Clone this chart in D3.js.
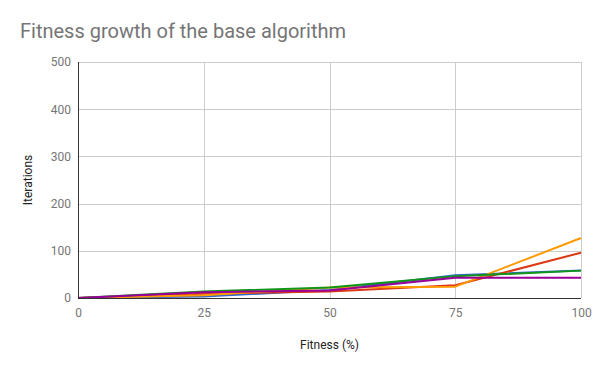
<!DOCTYPE html>
<html>
<head>
<meta charset="utf-8">
<script src="https://cdn.jsdelivr.net/npm/d3@7"></script>
<style>
  body { margin: 0; background: #fff; }
  text { font-family: Roboto, sans-serif; }
</style>
</head>
<body>
<div class="chart"></div>
<script>
// fitness steps (x) and iterations for each run
var fitness = [0, 25, 50, 75, 100];
var runBlue = [0, 3, 17, 48, 58];
var runRed = [0, 9, 14, 27, 96];
var runOrange = [0, 6, 22, 24, 127];
var runGreen = [0, 14, 22, 46, 58];
var runPurple = [0, 12, 16, 43, 43];
var xTicks = [0, 25, 50, 75, 100];
var yTicks = [0, 100, 200, 300, 400, 500];

var series = [
    {values: runBlue, color: "#3366cc"},
    {values: runRed, color: "#dc3912"},
    {values: runOrange, color: "#ff9900"},
    {values: runGreen, color: "#109618"},
    {values: runPurple, color: "#990099"}
];

var svgWidth = 600;
var svgHeight = 371;

var margin = {top: 62, right: 19, bottom: 73, left: 78};
var width = svgWidth - margin.left - margin.right;
var height = svgHeight - margin.top - margin.bottom;

var svg = d3.select(".chart").append("svg")
    .attr("width", svgWidth).attr("height", svgHeight);

svg.append("text")
    .attr("x", 20).attr("y", 38)
    .attr("font-size", "20px")
    .attr("fill", "#757575")
    .text("Fitness growth of the base algorithm");

var chartGroup = svg.append("g").attr("transform", `translate(${margin.left},${margin.top})`);

var x = d3.scaleLinear().domain([0, 100]).range([0, width]);
var y = d3.scaleLinear().domain([0, 500]).range([height, 0]);

// gridlines
chartGroup.append("g").selectAll("line")
    .data(yTicks.slice(1)).enter().append("line")
    .attr("x1", 0).attr("x2", width)
    .attr("y1", d => Math.round(y(d)) + 0.5).attr("y2", d => Math.round(y(d)) + 0.5)
    .attr("stroke", "#cccccc");

chartGroup.append("g").selectAll("line")
    .data(xTicks.slice(1)).enter().append("line")
    .attr("y1", 0).attr("y2", height)
    .attr("x1", d => Math.round(x(d)) + 0.5).attr("x2", d => Math.round(x(d)) + 0.5)
    .attr("stroke", "#cccccc");

// axes
var bottomAxis = d3.axisBottom(x).tickValues(xTicks).tickSize(0).tickPadding(10);
var leftAxis = d3.axisLeft(y).tickValues(yTicks).tickSize(0).tickPadding(7);

var xAxis = chartGroup.append("g")
    .attr("transform", `translate(0, ${height})`)
    .call(bottomAxis);
var yAxis = chartGroup.append("g").call(leftAxis);

[xAxis, yAxis].forEach(function(a) {
    a.select(".domain").remove();
    a.selectAll("text").attr("fill", "#757575").attr("font-size", "12px")
        .attr("font-family", "Roboto, sans-serif");
});

// lines
var line = d3.line()
    .x((d, i) => x(fitness[i]))
    .y(d => y(d));

chartGroup.selectAll(".run")
    .data(series).enter().append("path")
    .attr("class", "run")
    .attr("d", d => line(d.values))
    .attr("fill", "none")
    .attr("stroke", d => d.color)
    .attr("stroke-width", 2)
    .attr("stroke-linejoin", "round");

// baseline and left axis line
chartGroup.append("line")
    .attr("x1", 0).attr("x2", width)
    .attr("y1", height + 0.5).attr("y2", height + 0.5)
    .attr("stroke", "#333333");
chartGroup.append("line")
    .attr("x1", 0.5).attr("x2", 0.5)
    .attr("y1", 0).attr("y2", height)
    .attr("stroke", "#333333");

// axis titles
svg.append("text")
    .attr("x", margin.left + width / 2).attr("y", 349)
    .attr("text-anchor", "middle")
    .attr("font-size", "12px")
    .attr("fill", "#222")
    .text("Fitness (%)");

svg.append("text")
    .attr("transform", "rotate(-90)")
    .attr("x", -180).attr("y", 32)
    .attr("text-anchor", "middle")
    .attr("font-size", "12px")
    .attr("fill", "#222")
    .text("Iterations");
</script>
</body>
</html>
